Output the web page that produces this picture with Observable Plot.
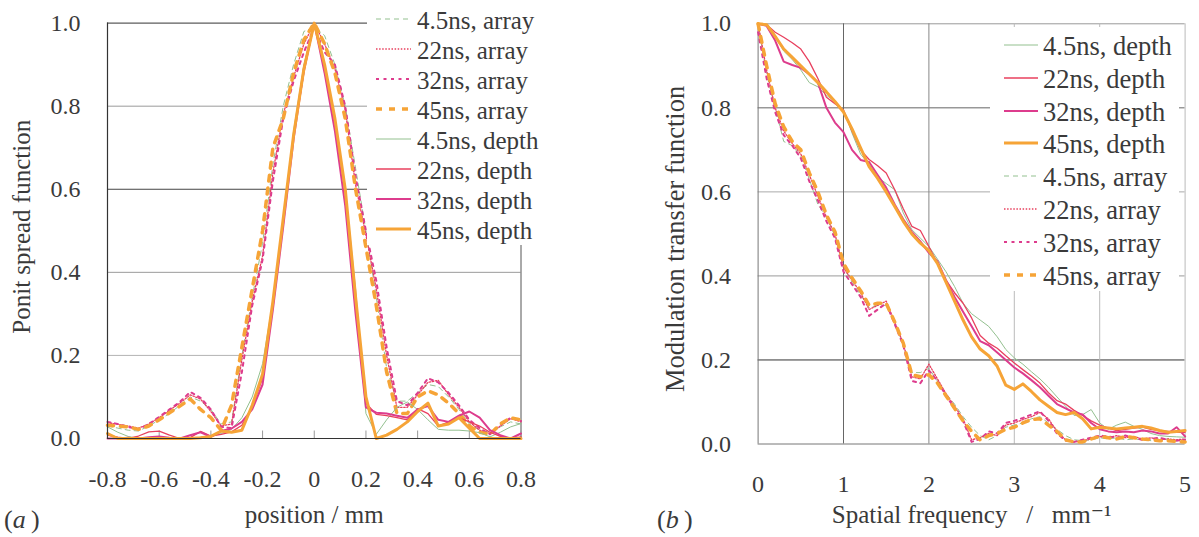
<!DOCTYPE html>
<html><head><meta charset="utf-8">
<script src="https://cdn.jsdelivr.net/npm/d3@7"></script>
<script src="https://cdn.jsdelivr.net/npm/@observablehq/plot@0.6"></script>
<style>
body{margin:0;background:#fff;}
#wrap{position:relative;width:1199px;height:537px;overflow:hidden;background:#fff;font-family:"Liberation Serif","Tinos","Times New Roman","DejaVu Serif",serif;color:#3a3a3a;}
.panel{position:absolute;top:0;}
.legend{position:absolute;background:#fff;}
.row{position:absolute;left:0;white-space:nowrap;height:30px;}
.row svg{position:absolute;top:0;}
.row span{position:absolute;top:0;line-height:30px;}
.tag{position:absolute;font-size:26px;}
</style></head>
<body><div id="wrap"></div>
<script>
// ---------- data ----------
const seriesTimes = ["4.5ns", "22ns", "32ns", "45ns"];

// (a) point spread function
const psfX = [-0.8,-0.76,-0.72,-0.68,-0.64,-0.6,-0.56,-0.52,-0.48,-0.44,-0.4,-0.36,-0.32,-0.28,-0.24,-0.2,-0.16,-0.12,-0.08,-0.04,0,0.04,0.08,0.12,0.16,0.2,0.24,0.28,0.32,0.36,0.4,0.44,0.48,0.52,0.56,0.6,0.64,0.68,0.72,0.76,0.8];
const psfArray4  = [0.03,0.025,0.02,0.018,0.03, 0.045,0.06,0.08,0.1,0.09, 0.07,0.035,0.04,0.2,0.34, 0.47,0.66,0.8,0.9,0.98, 0.99, 0.97,0.9,0.8,0.65,0.5, 0.34,0.17,0.09,0.09,0.11, 0.13,0.125,0.1,0.07,0.035, 0.02,0.015,0.028,0.04,0.035];
const psfArray22 = [0.038,0.034,0.03,0.025,0.035, 0.05,0.068,0.085,0.105,0.095, 0.065,0.03,0.035,0.19,0.33, 0.44,0.64,0.78,0.87,0.95, 1.0, 0.95,0.89,0.79,0.61,0.49, 0.36,0.2,0.075,0.075,0.105, 0.135,0.14,0.105,0.075,0.04, 0.02,0.012,0.03,0.048,0.04];
const psfArray32 = [0.04,0.035,0.028,0.022,0.035, 0.052,0.07,0.088,0.112,0.098, 0.07,0.028,0.025,0.16,0.32, 0.43,0.62,0.77,0.86,0.93, 0.99, 0.93,0.9,0.8,0.63,0.5, 0.38,0.22,0.09,0.08,0.11, 0.145,0.135,0.11,0.08,0.045, 0.025,0.01,0.032,0.05,0.042];
const psfArray45 = [0.032,0.03,0.028,0.022,0.03, 0.045,0.062,0.078,0.095,0.07, 0.05,0.02,0.08,0.22,0.36, 0.5,0.7,0.77,0.88,0.96, 1.0, 0.95,0.88,0.77,0.6,0.46, 0.32,0.16,0.06,0.06,0.1, 0.115,0.105,0.085,0.06,0.03, 0.015,0.01,0.035,0.05,0.045];
const psfDepth4  = [0.028,0.015,0.005,0.0,0.0, 0.0,0.002,0.0,0.0,0.003, 0.005,0.012,0.022,0.05,0.1, 0.18,0.33,0.53,0.74,0.9, 1.0, 0.9,0.77,0.6,0.36,0.06, 0.01,0.045,0.075,0.088,0.07, 0.045,0.022,0.02,0.02,0.018, 0.014,0.004,0.015,0.028,0.036];
const psfDepth22 = [0.008,0.003,0.0,0.006,0.016, 0.018,0.008,0.0,0.002,0.017, 0.006,0.01,0.016,0.032,0.075, 0.145,0.32,0.52,0.73,0.88, 1.0, 0.89,0.76,0.59,0.32,0.085, 0.058,0.055,0.05,0.045,0.072, 0.06,0.03,0.04,0.05,0.04, 0.03,0.015,0.005,0.0,0.004];
const psfDepth32 = [0.0,0.0,0.002,0.0,0.003, 0.005,0.002,0.0,0.008,0.015, 0.004,0.018,0.024,0.04,0.07, 0.13,0.31,0.51,0.72,0.89, 1.0, 0.88,0.74,0.56,0.3,0.075, 0.062,0.06,0.055,0.05,0.07, 0.078,0.045,0.04,0.055,0.065, 0.05,0.02,0.008,0.0,0.012];
const psfDepth45 = [0.012,0.0,0.0,0.0,0.0, 0.0,0.0,0.0,0.0,0.002, 0.005,0.018,0.015,0.02,0.08, 0.155,0.33,0.53,0.73,0.89, 1.0, 0.9,0.77,0.6,0.34,0.1, 0.0,0.008,0.022,0.04,0.065, 0.085,0.03,0.035,0.05,0.025, 0.0,0.0,0.0,0.0,0.0];

// (b) modulation transfer function
const mtfF = [0,0.1,0.2,0.3,0.4,0.5,0.6,0.7,0.8,0.9,1.0,1.1,1.2,1.3,1.4,1.5,1.6,1.7,1.8,1.9,2.0,2.1,2.2,2.3,2.4,2.5,2.6,2.7,2.8,2.9,3.0,3.1,3.2,3.3,3.4,3.5,3.6,3.7,3.8,3.9,4.0,4.1,4.2,4.3,4.4,4.5,4.6,4.7,4.8,4.9,5.0];
const mtfDepth4  = [1.0,0.995,0.97,0.935,0.915,0.89,0.86,0.85,0.83,0.815,0.795,0.74,0.69,0.665,0.635,0.62,0.605,0.55,0.51,0.49,0.47,0.44,0.41,0.375,0.335,0.31,0.295,0.28,0.255,0.225,0.205,0.19,0.172,0.155,0.135,0.112,0.09,0.068,0.07,0.082,0.05,0.035,0.045,0.052,0.042,0.035,0.025,0.02,0.018,0.017,0.016];
const mtfDepth22 = [1.0,0.998,0.98,0.968,0.955,0.94,0.91,0.87,0.825,0.81,0.795,0.745,0.7,0.677,0.662,0.645,0.605,0.56,0.518,0.508,0.47,0.43,0.39,0.36,0.335,0.3,0.258,0.24,0.228,0.21,0.193,0.177,0.162,0.145,0.122,0.103,0.095,0.08,0.068,0.055,0.045,0.038,0.032,0.035,0.038,0.04,0.035,0.032,0.03,0.028,0.028];
const mtfDepth32 = [1.0,0.995,0.96,0.91,0.902,0.895,0.88,0.86,0.8,0.765,0.742,0.7,0.676,0.671,0.64,0.61,0.57,0.535,0.505,0.482,0.455,0.435,0.39,0.35,0.315,0.28,0.245,0.235,0.218,0.2,0.182,0.168,0.152,0.135,0.115,0.095,0.085,0.075,0.07,0.05,0.035,0.03,0.028,0.03,0.028,0.032,0.03,0.025,0.025,0.04,0.018];
const mtfDepth45 = [1.0,0.998,0.97,0.94,0.92,0.9,0.88,0.86,0.838,0.815,0.79,0.75,0.705,0.66,0.632,0.6,0.565,0.53,0.5,0.478,0.46,0.43,0.385,0.34,0.295,0.255,0.226,0.21,0.185,0.14,0.13,0.143,0.125,0.105,0.09,0.075,0.07,0.075,0.06,0.036,0.04,0.038,0.036,0.038,0.04,0.042,0.038,0.032,0.028,0.03,0.032];
const mtfArray4  = [1.0,0.88,0.8,0.72,0.71,0.685,0.63,0.57,0.54,0.495,0.42,0.385,0.355,0.325,0.33,0.33,0.29,0.235,0.17,0.17,0.18,0.15,0.12,0.095,0.065,0.04,0.02,0.01,0.02,0.04,0.045,0.05,0.06,0.065,0.05,0.035,0.02,0.01,0.008,0.01,0.015,0.012,0.015,0.01,0.012,0.01,0.008,0.01,0.012,0.008,0.01];
const mtfArray22 = [1.0,0.89,0.8,0.745,0.715,0.69,0.64,0.59,0.54,0.5,0.42,0.39,0.36,0.32,0.33,0.34,0.29,0.24,0.16,0.155,0.19,0.155,0.12,0.09,0.06,0.01,0.015,0.025,0.02,0.045,0.05,0.058,0.065,0.075,0.06,0.03,0.01,0.005,0.008,0.012,0.018,0.015,0.02,0.015,0.018,0.012,0.015,0.01,0.012,0.01,0.012];
const mtfArray32 = [0.98,0.87,0.79,0.735,0.71,0.68,0.625,0.58,0.53,0.49,0.41,0.38,0.35,0.305,0.32,0.335,0.285,0.235,0.15,0.145,0.175,0.15,0.115,0.085,0.055,0.005,0.012,0.03,0.025,0.05,0.055,0.062,0.07,0.078,0.055,0.025,0.008,0.005,0.01,0.015,0.02,0.018,0.015,0.02,0.015,0.01,0.012,0.015,0.01,0.008,0.01];
const mtfArray45 = [1.0,0.9,0.81,0.755,0.72,0.7,0.645,0.6,0.545,0.505,0.43,0.395,0.365,0.33,0.335,0.335,0.29,0.24,0.165,0.16,0.165,0.145,0.115,0.085,0.055,0.03,0.01,0.02,0.025,0.035,0.04,0.05,0.058,0.06,0.045,0.03,0.01,0.005,0.005,0.012,0.018,0.015,0.012,0.018,0.015,0.012,0.01,0.008,0.008,0.006,0.005];

// ticks
const yTicks = [0, 0.2, 0.4, 0.6, 0.8, 1.0];
const psfTicks = [-0.8,-0.6,-0.4,-0.2,0,0.2,0.4,0.6,0.8];
const mtfTicks = [0,1,2,3,4,5];

// ---------- styles ----------
const look = {
  "4.5ns": {color: "#93c08f", width: 1},
  "22ns":  {color: "#e8405e", width: 1.3},
  "32ns":  {color: "#dd3c8d", width: 2},
  "45ns":  {color: "#f6a437", width: 3}
};
const arrayDash = {"4.5ns": "5,4", "22ns": "1.5,1.6", "32ns": "3,4.5", "45ns": "6,7"};
const arrayWidth = {"4.5ns": 1, "22ns": 1.3, "32ns": 2, "45ns": 3.5};
const FONT = '"Liberation Serif","Tinos","Times New Roman","DejaVu Serif",serif';
const INK = "#3a3a3a";
const NB = "\u00a0";

function series(kind, t, xs, ys) {
  return {kind, t, rows: xs.map((x, i) => ({x, y: ys[i]}))};
}
function lineMark(s) {
  const st = look[s.t];
  return Plot.line(s.rows, {
    x: "x", y: "y", stroke: st.color,
    strokeWidth: s.kind === "array" ? arrayWidth[s.t] : st.width,
    strokeDasharray: s.kind === "array" ? arrayDash[s.t] : null,
    strokeLinejoin: "round"
  });
}

const psfSeries = [
  series("array", "4.5ns", psfX, psfArray4), series("array", "22ns", psfX, psfArray22),
  series("array", "32ns", psfX, psfArray32), series("array", "45ns", psfX, psfArray45),
  series("depth", "4.5ns", psfX, psfDepth4), series("depth", "22ns", psfX, psfDepth22),
  series("depth", "32ns", psfX, psfDepth32), series("depth", "45ns", psfX, psfDepth45)
];
const mtfSeries = [
  series("depth", "4.5ns", mtfF, mtfDepth4), series("depth", "22ns", mtfF, mtfDepth22),
  series("depth", "32ns", mtfF, mtfDepth32), series("depth", "45ns", mtfF, mtfDepth45),
  series("array", "4.5ns", mtfF, mtfArray4), series("array", "22ns", mtfF, mtfArray22),
  series("array", "32ns", mtfF, mtfArray32), series("array", "45ns", mtfF, mtfArray45)
];

const psfGridColor = {0.2: "#b4b4b4", 0.4: "#9a9a9a", 0.6: "#444", 0.8: "#9a9a9a", 1: "#333"};
const mtfGridYColor = {0.2: "#333", 0.4: "#9a9a9a", 0.6: "#aaa", 0.8: "#666", 1: "#999"};
const mtfGridXColor = {1: "#666", 2: "#888", 3: "#bbb", 4: "#bbb", 5: "#bbb"};

const baseStyle = {fontFamily: FONT, fontSize: "24px", color: INK, background: "transparent", overflow: "visible"};

// ---------- panel (a) ----------
const plotA = Plot.plot({
  width: 600, height: 537,
  marginLeft: 107, marginRight: 79.5, marginTop: 22.6, marginBottom: 99,
  x: {domain: [-0.8, 0.8]}, y: {domain: [0, 1]},
  color: {type: "identity"},
  style: baseStyle,
  marks: [
    Plot.ruleY(yTicks.slice(1), {y: d => d, stroke: d => psfGridColor[d], strokeWidth: 1}),
    Plot.ruleX([0.8], {stroke: "#555", strokeWidth: 1}),
    Plot.ruleX(psfTicks, {x: d => d, y1: 0, y2: 0.018, stroke: "#999"}),
    ...psfSeries.map(lineMark),
    Plot.ruleX([-0.8], {stroke: "#333", strokeWidth: 1.2}),
    Plot.ruleY([0], {stroke: "#333", strokeWidth: 1.2}),
    Plot.axisY(yTicks, {tickSize: 0, tickPadding: 27, tickFormat: d3.format(".1f"), label: null, fill: INK, fontSize: 24}),
    Plot.axisX(psfTicks, {tickSize: 0, tickPadding: 31, tickFormat: d => d === 0 ? "0" : d.toFixed(1), label: null, fill: INK, fontSize: 24}),
    Plot.text(["Ponit spread function"], {frameAnchor: "left", textAnchor: "middle", rotate: -90, dx: -86, dy: -4, fill: INK, fontSize: 25}),
    Plot.text(["position / mm"], {frameAnchor: "bottom", dy: 84, fill: INK, fontSize: 25})
  ]
});

// ---------- panel (b) ----------
const plotB = Plot.plot({
  width: 599, height: 537,
  marginLeft: 157.6, marginRight: 14.4, marginTop: 23.3, marginBottom: 93.5,
  x: {domain: [0, 5]}, y: {domain: [0, 1]},
  color: {type: "identity"},
  style: baseStyle,
  marks: [
    Plot.ruleY(yTicks.slice(1), {y: d => d, stroke: d => mtfGridYColor[d], strokeWidth: 1}),
    Plot.ruleX(mtfTicks.slice(1), {x: d => d, stroke: d => mtfGridXColor[d], strokeWidth: 1}),
    Plot.ruleX([0], {stroke: "#777", strokeWidth: 1}),
    Plot.ruleY([0], {stroke: "#777", strokeWidth: 1}),
    ...mtfSeries.map(lineMark),
    Plot.axisY(yTicks, {tickSize: 0, tickPadding: 27, tickFormat: d3.format(".1f"), label: null, fill: INK, fontSize: 24}),
    Plot.axisX(mtfTicks, {tickSize: 0, tickPadding: 31, tickFormat: d => String(d), label: null, fill: INK, fontSize: 24}),
    Plot.text(["Modulation transfer function"], {frameAnchor: "left", textAnchor: "middle", rotate: -90, dx: -83, dy: 5, fill: INK, fontSize: 26.5}),
    Plot.text(["Spatial frequency" + NB + NB + NB + "/" + NB + NB + NB + "mm\u207b\u00b9"], {frameAnchor: "bottom", dy: 78.5, fill: INK, fontSize: 25})
  ]
});

const wrap = document.getElementById("wrap");
plotA.classList.add("panel"); plotA.style.left = "0px";
plotB.classList.add("panel"); plotB.style.left = "600px";
wrap.appendChild(plotA); wrap.appendChild(plotB);

// ---------- legends (HTML overlays) ----------
function legend(box, entries, geo) {
  const div = document.createElement("div");
  div.className = "legend";
  Object.assign(div.style, {left: box.left + "px", top: box.top + "px", width: box.width + "px", height: box.height + "px"});
  entries.forEach((e, i) => {
    const st = look[e.t];
    const row = document.createElement("div");
    row.className = "row";
    row.style.top = (geo.first + geo.step * i - 15) + "px";
    row.style.width = box.width + "px";
    const w = e.kind === "array" ? arrayWidth[e.t] : st.width;
    const dash = e.kind === "array" ? `stroke-dasharray="${arrayDash[e.t]}"` : "";
    row.innerHTML = `<svg width="${geo.x2 - geo.x1 + 4}" height="30" style="left:${geo.x1 - 2}px"><line x1="2" x2="${geo.x2 - geo.x1 + 2}" y1="15" y2="15" stroke="${st.color}" stroke-width="${w}" ${dash}/></svg>` +
      `<span style="left:${geo.tx}px;font-size:${geo.fs}px;top:${geo.ty}px">${e.t}, ${e.kind}</span>`;
    div.appendChild(row);
  });
  wrap.appendChild(div);
}
legend({left: 367, top: 0, width: 190, height: 245}, psfSeries, {first: 18.5, step: 30, x1: 9, x2: 44, tx: 50, fs: 25, ty: 2});
legend({left: 990, top: 27, width: 189, height: 264}, mtfSeries, {first: 18, step: 32.8, x1: 14, x2: 48, tx: 53, fs: 26.5, ty: 1});

// panel tags
const ta = document.createElement("div"); ta.className = "tag"; ta.style.left = "4px"; ta.style.top = "505px"; ta.innerHTML = "(<i>a</i>&#8201;)"; wrap.appendChild(ta);
const tb = document.createElement("div"); tb.className = "tag"; tb.style.left = "657px"; tb.style.top = "505px"; tb.innerHTML = "(<i>b</i>&#8201;)"; wrap.appendChild(tb);
</script>
</body></html>
